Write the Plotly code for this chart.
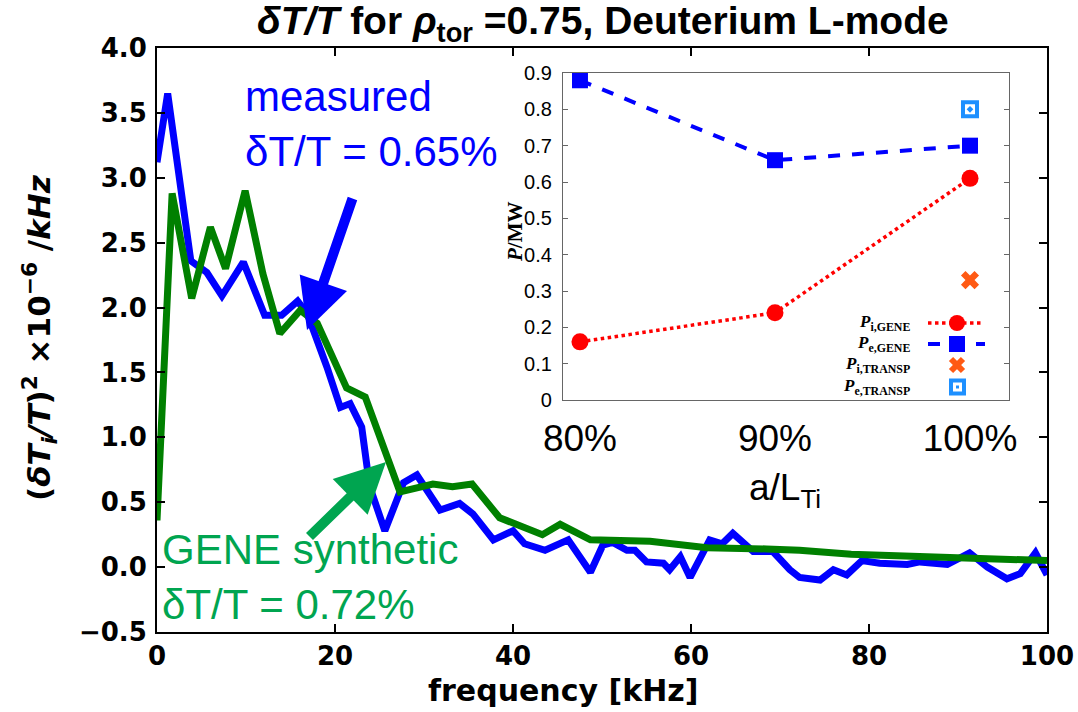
import plotly.graph_objects as go

W, H = 1078, 712

# ---- main spectrum data ----
freq_measured = [0, 1.2, 3.8, 5.6, 7.3, 9.7, 12.1, 14.0, 15.8, 16.9, 19.1, 20.6, 21.7, 23.0, 23.9,
                 25.6, 27.7, 29.2, 31.8, 34.0, 35.5, 37.8, 40.0, 41.3, 43.6, 46.2, 48.7, 50.1,
                 51.2, 52.8, 53.7, 55.0, 56.9, 57.6, 58.8, 59.9, 62.1, 63.5, 64.7, 67.0, 69.2,
                 71.1, 72.2, 74.5, 76.0, 77.5, 79.2, 81.2, 84.3, 85.7, 88.8, 91.3, 93.3, 95.5,
                 97.0, 98.7, 100.0]
spec_measured = [3.12, 3.65, 2.36, 2.27, 2.09, 2.35, 1.94, 1.94, 2.05, 1.95, 1.54, 1.23, 1.26, 1.08,
                 0.62, 0.28, 0.65, 0.71, 0.44, 0.49, 0.41, 0.21, 0.28, 0.18, 0.13, 0.21, -0.04,
                 0.17, 0.19, 0.13, 0.13, 0.04, 0.03, -0.02, 0.08, -0.08, 0.21, 0.18, 0.26, 0.12,
                 0.12, -0.02, -0.08, -0.10, -0.02, -0.06, 0.05, 0.03, 0.02, 0.04, 0.02, 0.11,
                 0.00, -0.09, -0.05, 0.11, -0.06]

freq_gene = [0, 1.7, 3.9, 6.0, 7.7, 9.9, 11.9, 13.8, 16.1, 18.0, 21.3, 23.4, 27.3, 31.0, 33.2,
             35.4, 38.5, 40.5, 43.3, 45.3, 48.7, 55.4, 61.8, 68.5, 72.2, 78.0, 85.0, 92.0, 100.0]
spec_gene = [0.36, 2.88, 2.07, 2.62, 2.30, 2.90, 2.26, 1.80, 1.98, 1.88, 1.38, 1.31, 0.58, 0.64,
             0.62, 0.64, 0.38, 0.33, 0.25, 0.33, 0.21, 0.20, 0.15, 0.14, 0.13, 0.10, 0.08, 0.06,
             0.05]

# ---- inset: heat flux vs gradient scan ----
grad_pct = [80, 90, 100]
grad_labels = ["80%", "90%", "100%"]
p_i_gene = [0.16, 0.24, 0.61]
p_e_gene = [0.88, 0.66, 0.70]
transp_x = [100]
p_i_transp = [0.33]
p_e_transp = [0.80]

main_ticks_y = [-0.5, 0.0, 0.5, 1.0, 1.5, 2.0, 2.5, 3.0, 3.5, 4.0]
main_ticktext_y = ["\u22120.5", "0.0", "0.5", "1.0", "1.5", "2.0", "2.5", "3.0", "3.5", "4.0"]
inset_ticks_y = [0, 0.1, 0.2, 0.3, 0.4, 0.5, 0.6, 0.7, 0.8, 0.9]
inset_ticktext_y = ["0", "0.1", "0.2", "0.3", "0.4", "0.5", "0.6", "0.7", "0.8", "0.9"]

BLUE = "#0000ff"
GREEN = "#008000"
ANN_GREEN = "#00a550"
RED = "#ff0000"
ORANGE = "#ff5a14"
LIGHTBLUE = "#1e90ff"


def px(x):
    return x / W


def py(y):
    return 1 - y / H


fig = go.Figure()

fig.add_trace(go.Scatter(x=freq_measured, y=spec_measured, mode="lines",
                         line=dict(color=BLUE, width=7), xaxis="x", yaxis="y",
                         showlegend=False))
fig.add_trace(go.Scatter(x=freq_gene, y=spec_gene, mode="lines",
                         line=dict(color=GREEN, width=7), xaxis="x", yaxis="y",
                         showlegend=False))

# inset traces
fig.add_trace(go.Scatter(x=grad_pct, y=p_i_gene, mode="lines+markers",
                         line=dict(color=RED, width=3.5, dash="dot"),
                         marker=dict(symbol="circle", size=17, color=RED),
                         xaxis="x2", yaxis="y2", showlegend=False))
fig.add_trace(go.Scatter(x=grad_pct, y=p_e_gene, mode="lines+markers",
                         line=dict(color=BLUE, width=4, dash="dash"),
                         marker=dict(symbol="square", size=16, color=BLUE),
                         xaxis="x2", yaxis="y2", showlegend=False))
fig.add_trace(go.Scatter(x=transp_x, y=p_i_transp, mode="markers",
                         marker=dict(symbol="x", size=16, color=ORANGE, line=dict(width=0)),
                         xaxis="x2", yaxis="y2", showlegend=False))
fig.add_trace(go.Scatter(x=transp_x, y=p_e_transp, mode="markers",
                         marker=dict(symbol="square-open-dot", size=14,
                                     color=LIGHTBLUE, line=dict(width=4, color=LIGHTBLUE)),
                         xaxis="x2", yaxis="y2", showlegend=False))

tick_font = dict(family="DejaVu Sans", size=26, color="black", weight="bold")

fig.update_layout(
    width=W, height=H,
    margin=dict(l=0, r=0, t=0, b=0, autoexpand=False),
    paper_bgcolor="white", plot_bgcolor="white",
    xaxis=dict(domain=[px(157), px(1047)], range=[0, 100],
               tickvals=[0, 20, 40, 60, 80, 100], ticks="inside", ticklen=8,
               tickwidth=1.5, tickcolor="black",
               showline=True, linewidth=2, linecolor="black", mirror="ticks",
               showgrid=False, zeroline=False, tickfont=tick_font,
               ticklabelstandoff=0, anchor="y", automargin=False),
    yaxis=dict(domain=[py(632), py(48)], range=[-0.5, 4.0],
               tickvals=main_ticks_y, ticktext=main_ticktext_y,
               ticks="inside", ticklen=8, tickwidth=1.5, tickcolor="black",
               showline=True, linewidth=2, linecolor="black", mirror="ticks",
               showgrid=False, zeroline=False, tickfont=tick_font,
               ticklabelstandoff=3, anchor="x", automargin=False),
    xaxis2=dict(domain=[px(563), px(1009)], range=[79.13, 102.0],
                tickvals=grad_pct, ticktext=grad_labels, ticks="",
                showline=True, linewidth=1.2, linecolor="#666666", mirror=True,
                showgrid=False, zeroline=False,
                tickfont=dict(family="Liberation Sans", size=37, color="black"),
                ticklabelstandoff=5, anchor="y2", automargin=False),
    yaxis2=dict(domain=[py(400), py(73)], range=[0, 0.9],
                tickvals=inset_ticks_y, ticktext=inset_ticktext_y,
                ticks="inside", ticklen=5, tickcolor="#666666",
                showline=True, linewidth=1.2, linecolor="#666666", mirror="ticks",
                showgrid=False, zeroline=False,
                tickfont=dict(family="Liberation Sans", size=20, color="black"),
                ticklabelstandoff=6, anchor="x2", automargin=False),
)

ann = []
# title
ann.append(dict(x=px(603), y=py(23), xref="paper", yref="paper", showarrow=False,
                text="<i>\u03b4T/T</i> for <i>\u03c1</i><sub>tor</sub> =0.75, Deuterium L-mode",
                font=dict(family="Liberation Sans", size=39, color="black", weight="bold"),
                xanchor="center", yanchor="middle"))
# axis titles
ann.append(dict(x=px(563), y=py(690), xref="paper", yref="paper", showarrow=False,
                text="frequency [kHz]",
                font=dict(family="DejaVu Sans", size=30, color="black", weight="bold"),
                xanchor="center", yanchor="middle"))
ann.append(dict(x=px(39), y=py(338), xref="paper", yref="paper", showarrow=False,
                text="(<i>\u03b4T<sub>i</sub>/T</i>)<sup>2</sup> \u00d710<sup>\u22126</sup> /<i>kHz</i>",
                textangle=-90,
                font=dict(family="DejaVu Sans", size=31, color="black", weight="bold"),
                xanchor="center", yanchor="middle"))
# text labels
ann.append(dict(x=px(243), y=py(124), xref="paper", yref="paper", showarrow=False,
                text="measured<br>\u03b4T/T = 0.65%", align="left",
                font=dict(family="Liberation Sans", size=42, color=BLUE),
                xanchor="left", yanchor="middle"))
ann.append(dict(x=px(160), y=py(577), xref="paper", yref="paper", showarrow=False,
                text="GENE synthetic<br>\u03b4T/T = 0.72%", align="left",
                font=dict(family="Liberation Sans", size=42, color=ANN_GREEN),
                xanchor="left", yanchor="middle"))
# arrows
ann.append(dict(x=px(307), y=py(330), xref="paper", yref="paper", text="",
                showarrow=True, arrowhead=2, arrowsize=1.0, arrowwidth=10,
                arrowcolor=BLUE, ax=46, ay=-133))
ann.append(dict(x=px(386), y=py(462), xref="paper", yref="paper", text="",
                showarrow=True, arrowhead=2, arrowsize=1.0, arrowwidth=10,
                arrowcolor=ANN_GREEN, ax=-78, ay=76))
# inset axis titles
ann.append(dict(x=px(515), y=py(232), xref="paper", yref="paper", showarrow=False,
                text="<i>P</i>/MW", textangle=-90,
                font=dict(family="Liberation Serif", size=21, color="black", weight="bold"),
                xanchor="center", yanchor="middle"))
ann.append(dict(x=px(785), y=py(490), xref="paper", yref="paper", showarrow=False,
                text="a/L<sub>Ti</sub>",
                font=dict(family="Liberation Sans", size=37, color="black"),
                xanchor="center", yanchor="middle"))

# inset legend labels
leg_rows = [323, 344, 365, 387]
leg_text = ["<i>P</i><sub>i,GENE</sub>", "<i>P</i><sub>e,GENE</sub>",
            "<i>P</i><sub>i,TRANSP</sub>", "<i>P</i><sub>e,TRANSP</sub>"]
for yy, tt in zip(leg_rows, leg_text):
    ann.append(dict(x=px(912), y=py(yy), xref="paper", yref="paper", showarrow=False,
                    text=tt, xanchor="right", yanchor="middle",
                    font=dict(family="Liberation Serif", size=17, color="black",
                              weight="bold")))
for a in ann:
    fig.add_annotation(**a)

# inset legend samples
shapes = []
shapes.append(dict(type="line", xref="paper", yref="paper", x0=px(928), x1=px(982),
                   y0=py(323), y1=py(323), line=dict(color=RED, width=3.5, dash="dot")))
shapes.append(dict(type="circle", xref="paper", yref="paper", x0=px(949), x1=px(965),
                   y0=py(331), y1=py(315), fillcolor=RED, line=dict(width=0)))
shapes.append(dict(type="line", xref="paper", yref="paper", x0=px(928), x1=px(985),
                   y0=py(344), y1=py(344), line=dict(color=BLUE, width=4, dash="dash")))
shapes.append(dict(type="rect", xref="paper", yref="paper", x0=px(949), x1=px(965),
                   y0=py(352), y1=py(336), fillcolor=BLUE, line=dict(width=0)))
shapes.append(dict(type="line", xref="paper", yref="paper", x0=px(951), x1=px(963),
                   y0=py(371), y1=py(359), line=dict(color=ORANGE, width=6)))
shapes.append(dict(type="line", xref="paper", yref="paper", x0=px(951), x1=px(963),
                   y0=py(359), y1=py(371), line=dict(color=ORANGE, width=6)))
shapes.append(dict(type="rect", xref="paper", yref="paper", x0=px(951), x1=px(964),
                   y0=py(393.5), y1=py(380.5), fillcolor="white",
                   line=dict(color=LIGHTBLUE, width=4)))
shapes.append(dict(type="rect", xref="paper", yref="paper", x0=px(956), x1=px(959),
                   y0=py(388.5), y1=py(385.5), fillcolor=LIGHTBLUE, line=dict(width=0)))
fig.update_layout(shapes=shapes)

fig.write_html("out.html")
